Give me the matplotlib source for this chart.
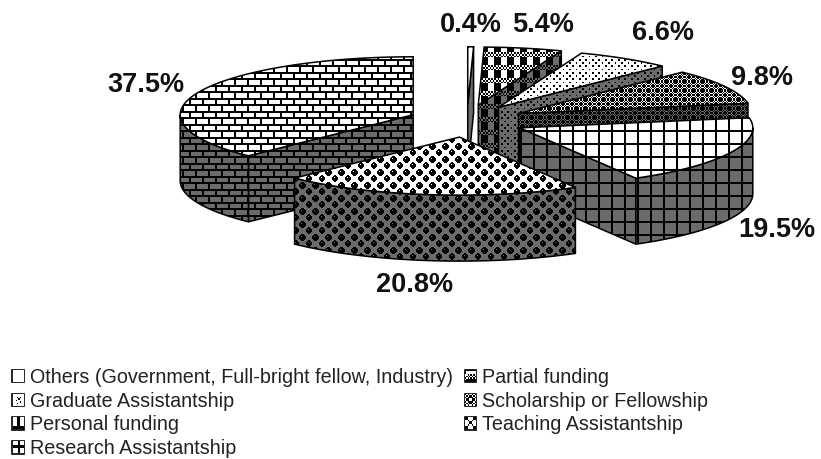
import numpy as np
import matplotlib
matplotlib.use('Agg')
import matplotlib.pyplot as plt
from matplotlib.patches import Patch, Polygon

plt.rcParams['font.family'] = ['Liberation Sans', 'DejaVu Sans']

categorias = ['Others (Government, Full-bright fellow, Industry)', 'Partial funding',
              'Graduate Assistantship', 'Scholarship or Fellowship',
              'Personal funding', 'Teaching Assistantship', 'Research Assistantship']
valores = [0.4, 5.4, 6.6, 9.8, 19.5, 20.8, 37.5]
rotulos = ['0.4%', '5.4%', '6.6%', '9.8%', '19.5%', '20.8%', '37.5%']
pos_rotulos = [(471, 25), (543, 25), (663, 33), (762, 78), (777, 230), (415, 285), (146, 85)]
ordem_legenda = [0, 2, 4, 6, 1, 3, 5]

L, A = 821, 459
CX, CY = 467, 121      # centre of the whole pie, in pixels
RX, RY = 233, 58       # ellipse radii
PROF = 66              # wall height
EXPLODE_X, EXPLODE_Y = 0.25, 0.28
CINZA = 0.42

# bitmaps like the old office fill patterns, X is ink
TIJOLO = ['XXXXXXXX', 'X.......', 'X.......', 'X.......',
          'XXXXXXXX', '....X...', '....X...', '....X...']
GRADE = ['XXXXXXXX'] + ['X.......'] * 7
BOLAS = ['..XXX........',
         '.XXXXX.......',
         'XX.XXXX......',
         'XXXXXXX......',
         'XXXXXXX......',
         '.XXXXX.......',
         '..XXX....XX..',
         '........XXXX.',
         '.......XX.XXX',
         '.......XXXXXX',
         '.......XXXXXX',
         '........XXXX.',
         '.........XX..']
PONTOS = ['X...', '....', '..X.', '....']
LOSANGO = ['XX.XX.XX', 'X.X..X.X', '.X.XX.X.', 'X.XXXX.X',
           'X.XXXX.X', '.X.XX.X.', 'X.X..X.X', 'XX.XX.XX']
XADREZ = ['X.X.X.X.', '.X.X.X.X', 'X.X.X.X.', 'XXXX....',
          'XXXX....', 'XXXX....', 'XXXX....', 'XXXX....']
VAZIO = ['.']

padroes = [(VAZIO, 8), (XADREZ, 13), (PONTOS, 6.5), (LOSANGO, 9), (GRADE, 13), (BOLAS, 13), (TIJOLO, 13)]

# the little legend boxes are drawn differently from the big fills
caixas = [['........'] * 8,
          ['XXXXXXXX', 'X.......', 'X.......', '..X.X.X.', '.X.X.X.X', 'X.X.X.X.', '.XXXXXXX', 'XXXXXXXX'],
          ['........', '........', '...X.X..', '....X...', '..X.....', '.....X..', '...X....', '........'],
          ['X.X..X.X', '.X.XX.X.', 'X.XXXX.X', '.XX..XX.', '.XX..XX.', 'X.XXXX.X', '.X.XX.X.', 'X.X..X.X'],
          ['...XX...', '...XX...', '...XX...', '...XX...', '...XX...', '...XX...', 'XXXXXXXX', 'XXXXXXXX'],
          ['XX....XX', 'XX....XX', '..X..X..', '...XX...', '...XX...', '..X..X..', 'XX....XX', 'XX....XX'],
          ['....X...', '....X...', '....X...', 'XXXXXXXX', 'XXXXXXXX', '....X...', '....X...', '....X...']]


def bitmap(padrao):
    return np.array([[c == 'X' for c in linha] for linha in padrao])


def textura(padrao, periodo, fundo):
    tile = bitmap(padrao)
    n = tile.shape[0]
    yy, xx = np.mgrid[0:A, 0:L]
    i = (np.floor(yy * n / periodo).astype(int)) % n
    j = (np.floor(xx * n / periodo).astype(int)) % n
    return np.where(tile[i, j], 0.0, fundo)


def borda(cx, cy, t):
    return cx + RX * np.sin(t), cy - RY * np.cos(t)


def face(ax, pts, padrao, periodo, fundo, z):
    img = ax.imshow(textura(padrao, periodo, fundo), cmap='gray', vmin=0, vmax=1, extent=(0, L, A, 0),
                    interpolation='nearest', zorder=z, aspect='auto')
    contorno = Polygon(pts, closed=True, facecolor='none', edgecolor='black', linewidth=1.1, zorder=z + 0.1)
    ax.add_patch(contorno)
    img.set_clip_path(contorno)


fig, ax = plt.subplots(figsize=(L / 100, A / 100), dpi=100)
ax.set_position([0, 0, 1, 1])
ax.axis('off')

fatias = []
acum = 0
for v in valores:
    t1 = np.radians(acum * 3.6)
    t2 = np.radians((acum + v) * 3.6)
    acum += v
    fatias.append((t1, t2))

# back slices first, research goes behind teaching and personal
ordem = [0, 1, 2, 3, 6, 4, 5]
z = 2
for k in ordem:
    t1, t2 = fatias[k]
    pad, per = padroes[k]
    tm = (t1 + t2) / 2
    cx = CX + EXPLODE_X * RX * np.sin(tm)
    cy = CY - EXPLODE_Y * RY * np.cos(tm)

    # radial walls that look at the viewer
    if np.sin(t2) > 0:
        x, y = borda(cx, cy, t2)
        face(ax, [(cx, cy), (x, y), (x, y + PROF), (cx, cy + PROF)], pad, per, CINZA, z)
        z += 1
    if np.sin(t1) < 0:
        x, y = borda(cx, cy, t1)
        face(ax, [(cx, cy), (x, y), (x, y + PROF), (cx, cy + PROF)], pad, per, CINZA, z)
        z += 1

    # curved wall, only the front half of the ellipse shows
    a1 = max(t1, np.pi / 2)
    a2 = min(t2, 3 * np.pi / 2)
    if a2 > a1:
        tt = np.linspace(a1, a2, 60)
        x, y = borda(cx, cy, tt)
        pts = list(zip(x, y)) + list(zip(x[::-1], y[::-1] + PROF))
        face(ax, pts, pad, per, CINZA, z)
        z += 1

    # top
    tt = np.linspace(t1, t2, 80)
    x, y = borda(cx, cy, tt)
    face(ax, [(cx, cy)] + list(zip(x, y)), pad, per, 1.0, z)
    z += 1

ax.set_xlim(0, L)
ax.set_ylim(A, 0)

for txt, (x, y) in zip(rotulos, pos_rotulos):
    ax.text(x, y, txt, ha='center', va='center', fontsize=19.5, fontweight='bold', color='#111111', zorder=50)

handles = [Patch(facecolor='white', edgecolor='black', linewidth=1.2) for k in ordem_legenda]
leg = ax.legend(handles, [categorias[k] for k in ordem_legenda], ncol=2, loc='upper left',
                bbox_to_anchor=(12, 368), bbox_transform=ax.transData,
                frameon=False, borderpad=0, borderaxespad=0, fontsize=14.2, handlelength=0.6, handleheight=0.6,
                handletextpad=0.3, labelspacing=0.24, columnspacing=0.6, labelcolor='#222222')

# fill the legend boxes with their small bitmaps once the layout is known
fig.canvas.draw()
for k, h in zip(ordem_legenda, leg.get_patches()):
    b = h.get_window_extent()
    ax.imshow(np.where(bitmap(caixas[k]), 0.0, 1.0), cmap='gray', vmin=0, vmax=1, aspect='auto',
              extent=(b.x0 + 0.5, b.x1 - 0.5, A - b.y0 - 0.5, A - b.y1 + 0.5),
              interpolation='nearest', zorder=60)
ax.set_xlim(0, L)
ax.set_ylim(A, 0)

fig.savefig('out.png', dpi=100, facecolor='white')
